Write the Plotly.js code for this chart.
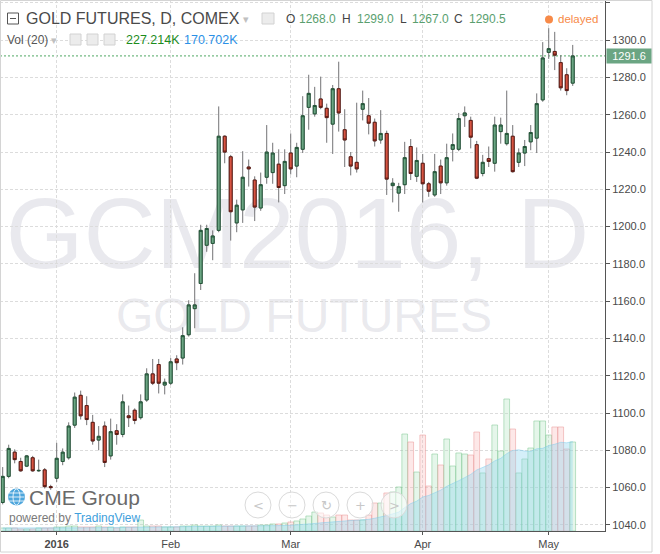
<!DOCTYPE html>
<html><head><meta charset="utf-8">
<script src="https://cdn.plot.ly/plotly-3.0.1.min.js"></script>
<style>html,body{margin:0;padding:0;background:#fff}#chart{width:660px;height:554px}</style>
</head><body><div id="chart"></div>
<script>
// ---- data ----
const dates = [
'2015-12-18','2015-12-21','2015-12-22','2015-12-23','2015-12-24','2015-12-28','2015-12-29','2015-12-30','2015-12-31',
'2016-01-04','2016-01-05','2016-01-06','2016-01-07','2016-01-08','2016-01-11','2016-01-12','2016-01-13','2016-01-14','2016-01-15',
'2016-01-19','2016-01-20','2016-01-21','2016-01-22','2016-01-25','2016-01-26','2016-01-27','2016-01-28','2016-01-29',
'2016-02-01','2016-02-02','2016-02-03','2016-02-04','2016-02-05','2016-02-08','2016-02-09','2016-02-10','2016-02-11','2016-02-12',
'2016-02-16','2016-02-17','2016-02-18','2016-02-19','2016-02-22','2016-02-23','2016-02-24','2016-02-25','2016-02-26','2016-02-29',
'2016-03-01','2016-03-02','2016-03-03','2016-03-04','2016-03-07','2016-03-08','2016-03-09','2016-03-10','2016-03-11','2016-03-14',
'2016-03-15','2016-03-16','2016-03-17','2016-03-18','2016-03-21','2016-03-22','2016-03-23','2016-03-24','2016-03-28','2016-03-29',
'2016-03-30','2016-03-31',
'2016-04-01','2016-04-04','2016-04-05','2016-04-06','2016-04-07','2016-04-08','2016-04-11','2016-04-12','2016-04-13','2016-04-14',
'2016-04-15','2016-04-18','2016-04-19','2016-04-20','2016-04-21','2016-04-22','2016-04-25','2016-04-26','2016-04-27','2016-04-28',
'2016-04-29',
'2016-05-02','2016-05-03','2016-05-04','2016-05-05','2016-05-06'];

const open = [1052,1066,1079,1074,1071.5,1076,1069,1069.5,1060.5,
1065,1074,1076,1093.5,1109.5,1104,1095,1085.5,1093,1077,
1090.5,1088.5,1098.5,1101.5,1097.5,1107,1121,1126,1115,
1116,1129,1129.5,1142,1156,1169.5,1190,1191,1198,1248.5,
1237.5,1202,1209,1232,1225,1210,1226.5,1229,1233.5,1222,
1239.5,1232.5,1241.5,1264,1260.5,1268.5,1263.5,1255,1274,1252,
1237.5,1234.5,1263,1259.5,1256,1246.5,1250,1222,1218,1222.5,
1243,1227,
1234,1223,1217,1232.5,1223.5,1241.5,1241.5,1259.5,1257,1244,
1228.5,1236.5,1234,1251,1244.5,1248.5,1234.5,1239.5,1245.5,1247.5,
1268,
1293.5,1294,1288,1281.5,1277];

const high = [1071,1083,1080.5,1076,1077.5,1077,1075,1070.5,1061.5,
1084,1081,1095,1111,1112,1109,1099,1093,1095.5,1097,
1094,1110,1104,1102.5,1110,1124,1129,1129,1118.5,
1129.5,1131,1146,1160.5,1175,1201,1201,1198,1264.5,1249,
1238.5,1214.5,1240.5,1236,1227,1229,1254.5,1245,1241.5,1241.5,
1250,1245,1270,1281.5,1275,1280.5,1266,1276,1288.5,1263,
1240,1266.5,1273,1269,1258,1262.5,1251.5,1226,1223.5,1245.5,
1247,1242.5,
1239,1224,1239,1236,1244.5,1250,1261,1264.5,1259,1246,
1238.5,1243,1259,1258.5,1273,1254.5,1242,1246.5,1254.5,1271.5,
1299,
1306.5,1304.5,1292,1285,1297.5];

const low = [1051,1065,1073,1068.5,1071,1068.5,1068.5,1059.5,1058.8,
1063,1072,1075,1092,1096.5,1093.5,1083,1080,1071,1075,
1083,1087,1092.5,1094,1096.5,1106,1115,1110.5,1110,
1115,1123,1126,1141,1145.5,1166,1186.5,1182,1197,1234,
1192.5,1197,1202,1221.5,1203,1208.5,1223,1223,1213,1217.5,
1228,1226.5,1239.5,1252,1259,1263,1245,1239,1251,1232,
1227.5,1229,1257,1249.5,1243,1244.5,1217,1213,1208,1217.5,
1225,1224,
1213,1216,1216,1217.5,1222,1235,1240.5,1253.5,1242,1225.5,
1227,1232,1229.5,1244.5,1243.5,1229,1232,1232.5,1241,1239.5,
1267,
1290,1284,1273,1270.5,1275.5];

const close = [1066,1081,1075,1069,1077,1069,1069.2,1060.5,1060,
1075.7,1079,1093,1108.5,1098.5,1096.5,1085,1087.5,1073.5,1090,
1088.5,1106,1097.5,1096,1106,1121,1116,1116,1116.5,
1127.5,1127,1141.5,1158,1158,1198,1199,1195,1248.5,1240,
1208,1211.5,1226.5,1231,1210.5,1222.5,1240,1239.5,1221,1235,
1231,1242.5,1259.5,1271.5,1265,1264,1258.5,1274,1261,1246.5,
1232.5,1231,1266,1255.5,1246,1250,1225.5,1223.3,1221.5,1237,
1228.5,1235.5,
1223,1219,1229.5,1223.5,1237,1244,1258,1261,1248,1226,
1234.5,1235,1254.5,1254.5,1250,1229.5,1239.5,1243,1250.5,1266,
1290.5,
1295.5,1292,1274.5,1273,1291.6];

// volume, thousands of contracts
const volume = [6.2,6.2,6.2,4.1,4.1,4.1,6.2,6.2,6.2,
8.3,8.3,10.3,10.3,8.3,8.3,8.3,10.3,8.3,8.3,
6.2,8.3,8.3,8.3,22.7,10.3,10.3,10.3,8.3,
8.3,8.3,10.3,10.3,12.4,10.3,10.3,10.3,12.4,10.3,
10.3,10.3,10.3,10.3,10.3,12.4,12.4,14.5,14.5,16.5,
18.6,20.7,24.8,31.0,39.2,37.2,33.0,28.9,33.0,33.0,
22.7,22.7,22.7,33.0,57.8,57.8,78.5,80.5,90.9,200.3,
183.8,121.8,
198.2,92.9,159.0,136.3,190.0,134.2,161.1,159.0,156.9,204.4,
119.8,148.7,218.9,165.2,272.6,210.6,119.8,148.7,171.4,227.2,
227.2,
198.2,214.8,214.8,169.3,183.8];

// Vol (20) moving-average line as drawn
const volumeMA = [6.4,6.3,6.2,6.2,6.1,6.0,6.0,6.0,6.1,
6.2,6.3,6.4,6.5,6.6,6.7,6.8,6.9,7.0,7.1,
7.2,7.3,7.4,7.5,8.5,8.8,9.1,9.3,9.4,
9.5,9.5,9.6,9.6,9.7,9.8,9.9,10.0,10.1,10.2,
10.3,10.5,10.6,10.7,10.8,10.3,10.4,10.6,10.8,11.3,
11.8,12.4,13.1,14.1,15.5,16.8,18.0,18.9,19.9,21.1,
21.7,22.3,22.9,24.1,26.4,28.7,32.0,35.3,39.1,48.3,
56.6,61.6,
70.3,73.4,79.4,84.4,92.2,97.5,103.9,110.2,116.9,126.0,
130.8,136.6,144.7,150.0,159.7,166.2,167.7,165.1,164.5,169.7,
170.7,
176.5,179.2,183.2,182.1,184.6];

const tickDates = ['2016-01-04','2016-02-01','2016-03-01','2016-04-01','2016-05-02'];
const tickLabels = ['<b>2016</b>','Feb','Mar','Apr','May'];
const lastPrice = 1291.6;
const header = {O:'1268.0', H:'1299.0', L:'1267.0', C:'1290.5'};
const volHeader = ['227.214K','170.702K'];

// ---- styling ----
const FONT = '"Liberation Sans", Arial, Helvetica, sans-serif';
const W = 605, H = 531;
const PX = x => x / W;
const PY = y => 1 - y / H;

const isUp = close.map((c, i) => c >= open[i]);
const bodyHigh = open.map((o, i) => Math.max(o, close[i]));
const bodyLow = open.map((o, i) => Math.min(o, close[i]));

const traces = [
  {type:'bar', x:dates, y:volume, yaxis:'y', hoverinfo:'skip',
   marker:{color:isUp.map(u => u ? 'rgba(175,228,190,0.32)' : 'rgba(248,185,185,0.32)'),
           line:{width:1, color:isUp.map(u => u ? 'rgba(125,200,145,0.5)' : 'rgba(235,150,150,0.5)')}}},
  {type:'scatter', mode:'lines', x:dates, y:volumeMA, yaxis:'y', hoverinfo:'skip',
   fill:'tozeroy', fillcolor:'rgba(135,210,238,0.36)', line:{color:'rgba(120,200,235,0.45)', width:1}},
  {type:'candlestick', x:dates, open:open, high:high, low:low, close:close, yaxis:'y2', hoverinfo:'skip',
   whiskerwidth:0,
   increasing:{line:{color:'#737375', width:1}, fillcolor:'rgba(0,0,0,0)'},
   decreasing:{line:{color:'#737375', width:1}, fillcolor:'rgba(0,0,0,0)'}},
  {type:'candlestick', x:dates, open:open, high:bodyHigh, low:bodyLow, close:close, yaxis:'y2', hoverinfo:'skip',
   whiskerwidth:0,
   increasing:{line:{color:'#225437', width:1}, fillcolor:'#6ba583'},
   decreasing:{line:{color:'#5b1a13', width:1}, fillcolor:'#d75442'}}
];

const GRID = '#dcdcdc';
const WM = 'rgba(195,195,208,0.36)';
const shapes = [
  // watermark
  {type:'rect', xref:'paper', yref:'paper', x0:PX(10), x1:PX(585), y0:PY(260), y1:PY(187), layer:'below',
   line:{width:0}, fillcolor:'rgba(0,0,0,0)',
   label:{text:'GCM2016, D', textposition:'middle center', font:{family:FONT, size:100, color:WM}}},
  {type:'rect', xref:'paper', yref:'paper', x0:PX(110), x1:PX(498), y0:PY(328), y1:PY(293), layer:'below',
   line:{width:0}, fillcolor:'rgba(0,0,0,0)',
   label:{text:'GOLD FUTURES', textposition:'middle center', font:{family:FONT, size:48, color:WM}}},
  // last price line
  {type:'line', xref:'paper', x0:0, x1:1, yref:'y2', y0:lastPrice, y1:lastPrice, layer:'below',
   line:{color:'#4fa862', width:1, dash:'2px,2px'}},
  // frame
  {type:'rect', xref:'paper', yref:'paper', x0:PX(0.5), x1:PX(652), y0:PY(552), y1:PY(0.5),
   line:{color:'#d4d4d4', width:1}, fillcolor:'rgba(0,0,0,0)', layer:'above'},
  // collapse icon
  {type:'rect', xref:'paper', yref:'paper', x0:PX(7.5), x1:PX(18.5), y0:PY(24), y1:PY(13),
   line:{color:'#555', width:1}, fillcolor:'rgba(255,255,255,0)'},
  {type:'line', xref:'paper', yref:'paper', x0:PX(10), x1:PX(16), y0:PY(18.5), y1:PY(18.5), line:{color:'#555', width:1}},
  // small grey icons in legend rows
  {type:'rect', xref:'paper', yref:'paper', x0:PX(262), x1:PX(274), y0:PY(24), y1:PY(13), line:{color:'#d2d2d2', width:1}, fillcolor:'#ececec'},
  {type:'rect', xref:'paper', yref:'paper', x0:PX(70), x1:PX(81), y0:PY(45), y1:PY(34), line:{color:'#d2d2d2', width:1}, fillcolor:'#ececec'},
  {type:'rect', xref:'paper', yref:'paper', x0:PX(87), x1:PX(98), y0:PY(45), y1:PY(34), line:{color:'#d2d2d2', width:1}, fillcolor:'#ececec'},
  {type:'rect', xref:'paper', yref:'paper', x0:PX(104), x1:PX(115), y0:PY(45), y1:PY(34), line:{color:'#d2d2d2', width:1}, fillcolor:'#ececec'},
  // delayed dot
  {type:'circle', xref:'paper', yref:'paper', x0:PX(545), x1:PX(553), y0:PY(23.5), y1:PY(15.5), line:{width:0}, fillcolor:'#f78a48'},
  // CME globe
  {type:'circle', xref:'paper', yref:'paper', x0:PX(8), x1:PX(25), y0:PY(505.5), y1:PY(488.5), line:{width:0}, fillcolor:'#4ea6dc', layer:'above'},
  {type:'circle', xref:'paper', yref:'paper', x0:PX(13), x1:PX(20), y0:PY(505), y1:PY(489), line:{width:1, color:'rgba(255,255,255,0.8)'}, fillcolor:'rgba(0,0,0,0)', layer:'above'},
  {type:'line', xref:'paper', yref:'paper', x0:PX(9), x1:PX(24), y0:PY(493), y1:PY(493), line:{width:1, color:'rgba(255,255,255,0.8)'}, layer:'above'},
  {type:'line', xref:'paper', yref:'paper', x0:PX(8.5), x1:PX(24.5), y0:PY(497), y1:PY(497), line:{width:1, color:'rgba(255,255,255,0.8)'}, layer:'above'},
  {type:'line', xref:'paper', yref:'paper', x0:PX(9), x1:PX(24), y0:PY(501), y1:PY(501), line:{width:1, color:'rgba(255,255,255,0.8)'}, layer:'above'}
];

// navigation buttons
const btnX = [258, 292, 326, 360, 394];
const btnSym = ['<', '\u2212', '\u21bb', '+', '>'];
btnX.forEach(cx => shapes.push({type:'circle', xref:'paper', yref:'paper',
  x0:PX(cx-13), x1:PX(cx+13), y0:PY(518), y1:PY(492), line:{color:'#dadada', width:1},
  fillcolor:'rgba(255,255,255,0.55)', layer:'above'}));

const ann = (x, y, text, size, color, extra) => Object.assign({xref:'paper', yref:'paper', x:PX(x), y:PY(y),
  xanchor:'left', yanchor:'middle', showarrow:false, text:text, font:{family:FONT, size:size, color:color}}, extra || {});

const annotations = [
  ann(24, 18.5, 'GOLD FUTURES, D, COMEX', 16, '#4a4a4a'),
  ann(241, 19, '\u25be', 12, '#bdbdbd', {font:{family:'DejaVu Sans', size:11, color:'#c0c0c0'}}),
  ann(284, 19, 'O', 12, '#444'), ann(297, 19, header.O, 12, '#5a9f6f'),
  ann(340, 19, 'H', 12, '#444'), ann(355, 19, header.H, 12, '#5a9f6f'),
  ann(398, 19, 'L', 12, '#444'), ann(410, 19, header.L, 12, '#5a9f6f'),
  ann(452, 19, 'C', 12, '#444'), ann(467, 19, header.C, 12, '#5a9f6f'),
  ann(556, 19, 'delayed', 11.5, '#f78a48'),
  ann(5, 40, 'Vol (20)', 12, '#555'),
  ann(49, 40, '\u25be', 11, '#c0c0c0', {font:{family:'DejaVu Sans', size:11, color:'#c0c0c0'}}),
  ann(124, 40, volHeader[0], 12.5, '#1c8c1c'),
  ann(182, 40, volHeader[1], 12.5, '#2b90e6'),
  ann(27, 497, 'CME Group', 21, '#6a6a6a'),
  ann(7, 517.5, 'powered by <span style="color:#3fa0dc">TradingView</span>', 12, '#7a7a7a'),
  {xref:'paper', x:1, xanchor:'left', xshift:1, yref:'y2', y:lastPrice, yanchor:'middle', showarrow:false,
   text:String(lastPrice), bgcolor:'#6ba583', borderpad:1, width:42, align:'center',
   font:{family:FONT, size:11, color:'#ffffff'}}
];
btnX.forEach((cx, i) => annotations.push({xref:'paper', yref:'paper', x:PX(cx), y:PY(505), xanchor:'center', yanchor:'middle',
  showarrow:false, text:btnSym[i], font:{family:'DejaVu Sans', size:13, color:'#c8c8c8'}}));

const layout = {
  width:660, height:554, margin:{l:0, r:55, t:0, b:23, pad:0},
  paper_bgcolor:'#ffffff', plot_bgcolor:'#ffffff', showlegend:false,
  font:{family:FONT, color:'#4a4a4a'},
  bargap:0.05, hovermode:false, dragmode:false,
  xaxis:{type:'category', range:[-0.45, 100.38], tickvals:tickDates, ticktext:tickLabels,
         showgrid:true, gridcolor:GRID, griddash:'3px,2px', gridwidth:1,
         showline:true, linecolor:'#555', linewidth:1, ticks:'outside', ticklen:3, tickcolor:'#555',
         tickfont:{family:FONT, size:11, color:'#4a4a4a'}, rangeslider:{visible:false}, fixedrange:true, zeroline:false},
  yaxis:{range:[0, 1096.5], visible:false, fixedrange:true, showgrid:false, zeroline:false},
  yaxis2:{overlaying:'y', side:'right', range:[1036.7, 1321.6], tick0:1040, dtick:20, tickformat:'.1f',
          showgrid:true, gridcolor:GRID, griddash:'3px,2px', gridwidth:1,
          showline:true, linecolor:'#555', linewidth:1, ticks:'outside', ticklen:4, tickcolor:'#555',
          tickfont:{family:FONT, size:11, color:'#4a4a4a'}, zeroline:false, fixedrange:true},
  shapes:shapes, annotations:annotations
};

Plotly.newPlot('chart', traces, layout, {displayModeBar:false, staticPlot:true});
</script></body></html>
